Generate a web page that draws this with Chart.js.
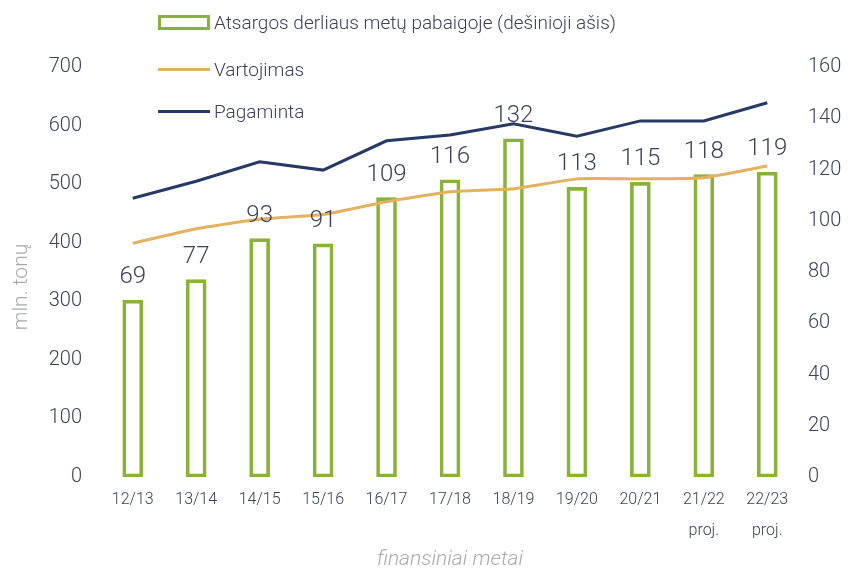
<!DOCTYPE html>
<html><head><meta charset="utf-8">
<script src="https://cdn.jsdelivr.net/npm/chart.js@4/dist/chart.umd.min.js"></script>
<style>
html,body{margin:0;padding:0;background:#fff;}
#wrap{position:relative;width:860px;height:576px;}
#legend{position:absolute;left:158px;top:0;font-family:Roboto,"Liberation Sans",Arial,sans-serif;font-weight:300;font-size:19px;color:#3d4058;}
.li{position:absolute;left:0;white-space:nowrap;display:flex;align-items:center;}
.sw{width:52px;margin-right:4px;box-sizing:border-box;}
</style></head>
<body>
<div id="wrap">
<canvas id="c" width="860" height="576"></canvas>
<div id="legend">
 <div class="li" style="top:11px"><div class="sw" style="height:15px;border:3px solid #8ab23a"></div>Atsargos derliaus metų pabaigoje (dešinioji ašis)</div>
 <div class="li" style="top:58px"><div class="sw" style="height:3px;background:#e2b25f"></div>Vartojimas</div>
 <div class="li" style="top:100px"><div class="sw" style="height:3px;background:#253a64"></div>Pagaminta</div>
</div>
</div>
<script>
const categories = [['12/13'],['13/14'],['14/15'],['15/16'],['16/17'],['17/18'],['18/19'],['19/20'],['20/21'],['21/22','proj.'],['22/23','proj.']];
const stocks = [69, 77, 93, 91, 109, 116, 132, 113, 115, 118, 119];
const consumption = [399, 424, 440, 448, 470, 487, 492, 509, 509, 511, 531];
const production = [476, 505, 538, 524, 574, 584, 603, 582, 608, 608, 639];
const leftTicks = [0,100,200,300,400,500,600,700];
const rightTicks = [0,20,40,60,80,100,120,140,160];
const yTitle = 'mln. tonų';

const FONT = 'Roboto, "Liberation Sans", Arial, sans-serif';
const TXT = '#3d4058';

const extras = {
  id:'extras',
  afterDatasetsDraw(chart){
    const meta = chart.getDatasetMeta(2);
    const ctx = chart.ctx;
    ctx.save();
    ctx.font = '300 24px ' + FONT;
    ctx.fillStyle = TXT;
    ctx.textAlign = 'center';
    ctx.textBaseline = 'bottom';
    meta.data.forEach((el,i)=>{
      ctx.fillText(String(stocks[i]), el.x, el.y - 11);
    });
    ctx.restore();
    ctx.save();
    ctx.translate(22, 287);
    ctx.rotate(-Math.PI/2);
    ctx.font = '300 21px ' + FONT;
    ctx.fillStyle = '#a8a9b3';
    ctx.textAlign = 'center';
    ctx.textBaseline = 'middle';
    ctx.fillText(yTitle, 0, 0);
    ctx.restore();
  }
};

new Chart(document.getElementById('c'), {
  data: {
    labels: categories,
    datasets: [
      {type:'line', label:'Pagaminta', data: production, yAxisID:'y', borderColor:'#253a64', borderWidth:3, pointRadius:0, tension:0, order:1},
      {type:'line', label:'Vartojimas', data: consumption, yAxisID:'y', borderColor:'#e2b25f', borderWidth:3, pointRadius:0, tension:0.15, order:2},
      {type:'bar', label:'Atsargos derliaus metų pabaigoje (dešinioji ašis)', data: stocks, yAxisID:'y1', backgroundColor:'rgba(255,255,255,0)', borderColor:'#8ab23a', borderWidth:3, barThickness:20, borderSkipped:false, order:3}
    ]
  },
  options: {
    responsive:false,
    animation:false,
    layout:{padding:{top:67,left:0,right:0,bottom:0}},
    plugins:{legend:{display:false}, tooltip:{enabled:false}},
    scales:{
      x:{
        grid:{display:false, drawTicks:false}, border:{display:false},
        ticks:{color:TXT, font:{family:FONT,size:16,weight:300, lineHeight:1.9}, padding:8, maxRotation:0, autoSkip:false},
        title:{display:true, text:'finansiniai metai', color:'#a8a9b3', font:{family:FONT,size:21,weight:300,style:'italic'}, padding:{top:10}},
        afterFit(s){ s.height = 99; }
      },
      y:{
        position:'left', min:0, max:700,
        afterBuildTicks(s){ s.ticks = leftTicks.map(v=>({value:v})); },
        grid:{display:false, drawTicks:false}, border:{display:false},
        ticks:{color:TXT, font:{family:FONT,size:20,weight:300}, padding:19},
        afterFit(s){ s.width = 101; }
      },
      y1:{
        position:'right', min:0, max:160,
        afterBuildTicks(s){ s.ticks = rightTicks.map(v=>({value:v})); },
        grid:{display:false, drawTicks:false}, border:{display:false},
        ticks:{color:TXT, font:{family:FONT,size:20,weight:300}, padding:9},
        afterFit(s){ s.width = 61; }
      }
    }
  },
  plugins:[extras]
});
</script>
</body></html>
